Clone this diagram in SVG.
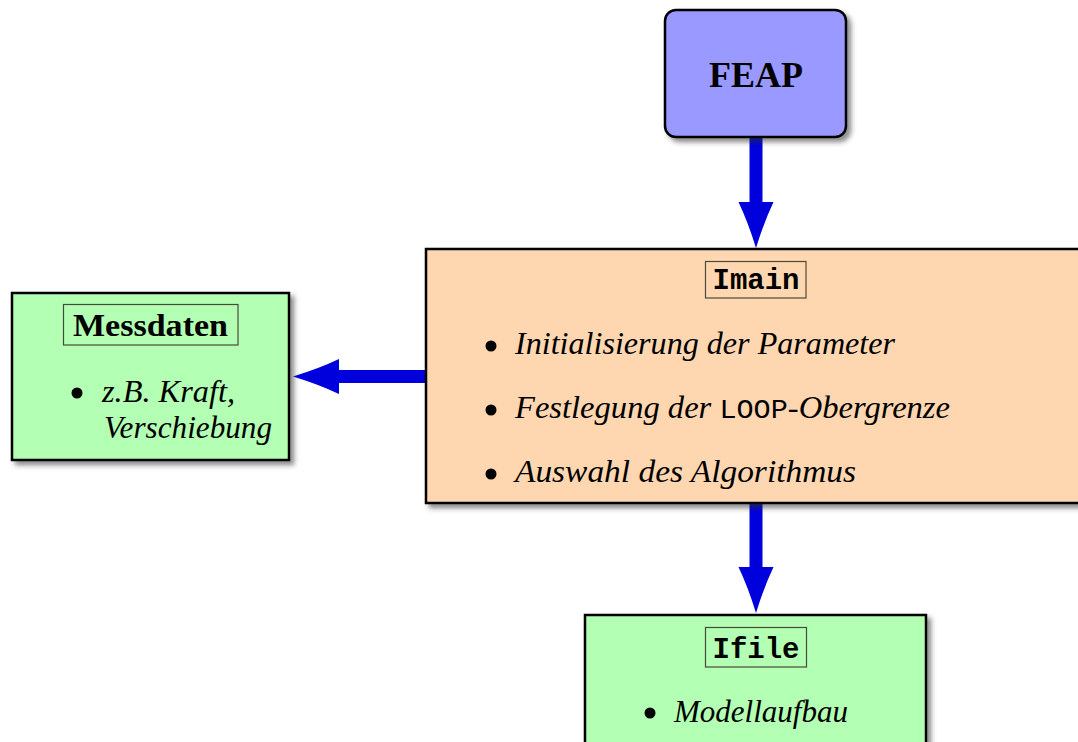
<svg xmlns="http://www.w3.org/2000/svg" width="1078" height="742" viewBox="0 0 1078 742">
<style>
.box{stroke:#000;stroke-width:2.5}
.lbl{stroke:#4a4a3a;stroke-width:1.2}
.it{font-family:"Liberation Serif","Times New Roman",serif;font-style:italic;font-size:32px;fill:#000}
.bd{font-family:"Liberation Serif","Times New Roman",serif;font-weight:bold;fill:#000}
.mono{font-family:"Liberation Mono","DejaVu Sans Mono",monospace;font-weight:bold;font-size:29px;fill:#000}
.conn{stroke:#0000dc;stroke-width:13;fill:none}
.dot{fill:#000}
</style>
<defs>
<filter id="sh" x="-10%" y="-10%" width="130%" height="130%">
<feDropShadow dx="4" dy="4" stdDeviation="2.5" flood-color="#333" flood-opacity="0.55"/>
</filter>
<marker id="ah" viewBox="0 -18 46 36" markerWidth="46" markerHeight="36" refX="1" refY="0" orient="auto" markerUnits="userSpaceOnUse">
<path d="M0,-17.5 Q20,-8 46,0 Q20,8 0,17.5 z" fill="#0000dc"/>
</marker>
</defs>
<rect width="1078" height="742" fill="#fff"/>

<g id="connectors">
<line class="conn" x1="756" y1="138" x2="756" y2="203" marker-end="url(#ah)"/>
<line class="conn" x1="427" y1="376.5" x2="338" y2="376.5" marker-end="url(#ah)"/>
<line class="conn" x1="756" y1="503" x2="756" y2="568" marker-end="url(#ah)"/>
</g>

<g id="feap">
<rect class="box" x="665" y="10" width="181" height="127" rx="11" fill="#9999ff" filter="url(#sh)"/>
<text class="bd" x="756" y="87" font-size="36" text-anchor="middle">FEAP</text>
</g>

<g id="imain">
<rect class="box" x="426" y="249" width="670" height="254" fill="#fed7b1" filter="url(#sh)"/>
<rect class="lbl" x="705.5" y="261.5" width="100.5" height="36.5" fill="#fed7b1"/>
<text class="mono" x="756" y="289" text-anchor="middle">Imain</text>
<circle class="dot" cx="491" cy="346" r="5.5"/>
<text class="it" x="515" y="354" textLength="380" lengthAdjust="spacingAndGlyphs">Initialisierung der Parameter</text>
<circle class="dot" cx="491" cy="410" r="5.5"/>
<text class="it" x="515" y="418" textLength="435" lengthAdjust="spacingAndGlyphs">Festlegung der <tspan font-family="Liberation Mono, monospace" font-style="normal" font-size="28">LOOP</tspan>-Obergrenze</text>
<circle class="dot" cx="491" cy="474" r="5.5"/>
<text class="it" x="515" y="482" textLength="341" lengthAdjust="spacingAndGlyphs">Auswahl des Algorithmus</text>
</g>

<g id="messdaten">
<rect class="box" x="12" y="293" width="277" height="167" fill="#b3ffb3" filter="url(#sh)"/>
<rect class="lbl" x="63.5" y="304.5" width="174.5" height="40.5" fill="#b3ffb3"/>
<text class="bd" x="73" y="336" font-size="31" textLength="155" lengthAdjust="spacingAndGlyphs">Messdaten</text>
<circle class="dot" cx="77" cy="393" r="5.5"/>
<text class="it" x="102" y="402" textLength="133" lengthAdjust="spacingAndGlyphs">z.B. Kraft,</text>
<text class="it" x="104" y="438" textLength="168" lengthAdjust="spacingAndGlyphs">Verschiebung</text>
</g>

<g id="ifile">
<rect class="box" x="585" y="615" width="341" height="140" fill="#b3ffb3" filter="url(#sh)"/>
<rect class="lbl" x="705.5" y="627.5" width="101" height="39.5" fill="#b3ffb3"/>
<text class="mono" x="756" y="658" text-anchor="middle">Ifile</text>
<circle class="dot" cx="650" cy="713" r="5.5"/>
<text class="it" x="674" y="722" textLength="174" lengthAdjust="spacingAndGlyphs">Modellaufbau</text>
</g>
</svg>
